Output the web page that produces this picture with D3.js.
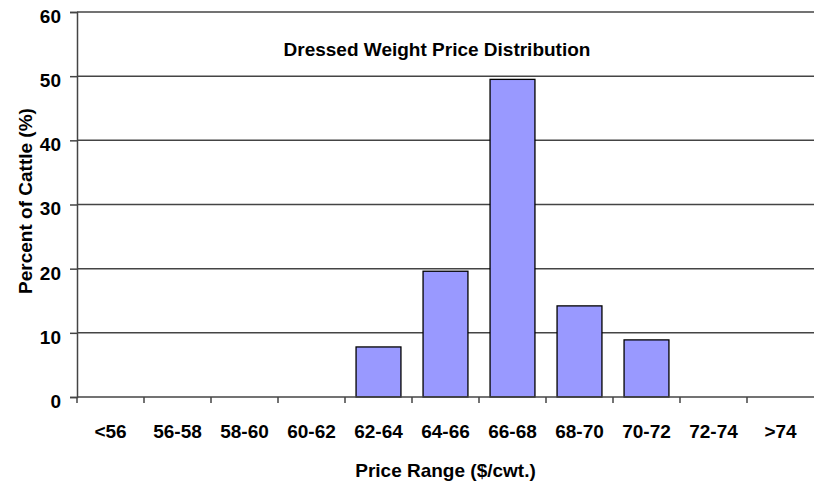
<!DOCTYPE html>
<html>
<head>
<meta charset="utf-8">
<script src="https://cdn.jsdelivr.net/npm/d3@7"></script>
<style>
  html, body { margin: 0; padding: 0; background: #fff; }
  text { font-family: "Liberation Sans", Arial, sans-serif; font-weight: bold; fill: #000; }
</style>
</head>
<body>
<svg id="chart" width="817" height="487"></svg>
<script>
// Share of cattle by dressed-weight price bracket
const categories = ["<56", "56-58", "58-60", "60-62", "62-64", "64-66", "66-68", "68-70", "70-72", "72-74", ">74"];
const percents = [0, 0, 0, 0, 7.8, 19.6, 49.5, 14.2, 8.9, 0, 0];
const yTicks = [0, 10, 20, 30, 40, 50, 60];

const width = 817, height = 487;
const plot = { left: 77, right: 814, top: 12, bottom: 397 };
const fontSize = "19px";
const svg = d3.select("#chart");

const x = d3.scaleBand()
  .domain(categories)
  .range([plot.left, plot.right])
  .paddingInner(0.33)
  .paddingOuter(0.165);

const y = d3.scaleLinear()
  .domain([0, 60])
  .range([plot.bottom, plot.top]);

const axisColor = "#444";

// horizontal gridlines
svg.append("g")
  .selectAll("line")
  .data(yTicks.filter(d => d > 0))
  .join("line")
  .attr("x1", plot.left)
  .attr("x2", plot.right)
  .attr("y1", d => y(d))
  .attr("y2", d => y(d))
  .attr("stroke", axisColor)
  .attr("stroke-width", 1.5);

// bars
const data = categories.map((c, i) => ({ c, v: percents[i] }));
svg.append("g")
  .selectAll("rect")
  .data(data.filter(d => d.v > 0))
  .join("rect")
  .attr("x", d => x(d.c))
  .attr("width", x.bandwidth())
  .attr("y", d => y(d.v))
  .attr("height", d => y(0) - y(d.v))
  .attr("fill", "#9999FF")
  .attr("stroke", "#000")
  .attr("stroke-width", 1.3);

// y axis
const yAxis = svg.append("g")
  .attr("transform", `translate(${plot.left},0)`)
  .call(d3.axisLeft(y).tickValues(yTicks).tickSize(7).tickPadding(9));
yAxis.select(".domain").attr("stroke", axisColor).attr("stroke-width", 1.5);
yAxis.selectAll(".tick line").attr("stroke", axisColor).attr("stroke-width", 1.5);
yAxis.selectAll(".tick text")
  .attr("dy", "0.55em")
  .style("font-size", fontSize);

// x axis: ticks sit on band boundaries, labels centred in bands
const xAxisG = svg.append("g").attr("transform", `translate(0,${y(0)})`);
xAxisG.append("line")
  .attr("x1", plot.left).attr("x2", plot.right)
  .attr("stroke", axisColor).attr("stroke-width", 1.5);
const step = x.step();
const boundaries = d3.range(categories.length).map(i => x(categories[i]) - (step - x.bandwidth()) / 2);
xAxisG.selectAll("line.tick")
  .data(boundaries)
  .join("line")
  .attr("class", "tick")
  .attr("x1", d => d).attr("x2", d => d)
  .attr("y1", 0).attr("y2", 6)
  .attr("stroke", axisColor).attr("stroke-width", 1.5);
xAxisG.selectAll("text")
  .data(categories)
  .join("text")
  .attr("x", d => x(d) + x.bandwidth() / 2)
  .attr("y", 41)
  .attr("text-anchor", "middle")
  .style("font-size", fontSize)
  .text(d => d);

// titles
svg.append("text")
  .attr("x", 437).attr("y", 56)
  .attr("text-anchor", "middle")
  .style("font-size", fontSize)
  .text("Dressed Weight Price Distribution");

svg.append("text")
  .attr("x", 445.5).attr("y", 477)
  .attr("text-anchor", "middle")
  .style("font-size", fontSize)
  .text("Price Range ($/cwt.)");

svg.append("text")
  .attr("transform", "translate(32,201) rotate(-90)")
  .attr("text-anchor", "middle")
  .style("font-size", fontSize)
  .text("Percent of Cattle (%)");
</script>
</body>
</html>
